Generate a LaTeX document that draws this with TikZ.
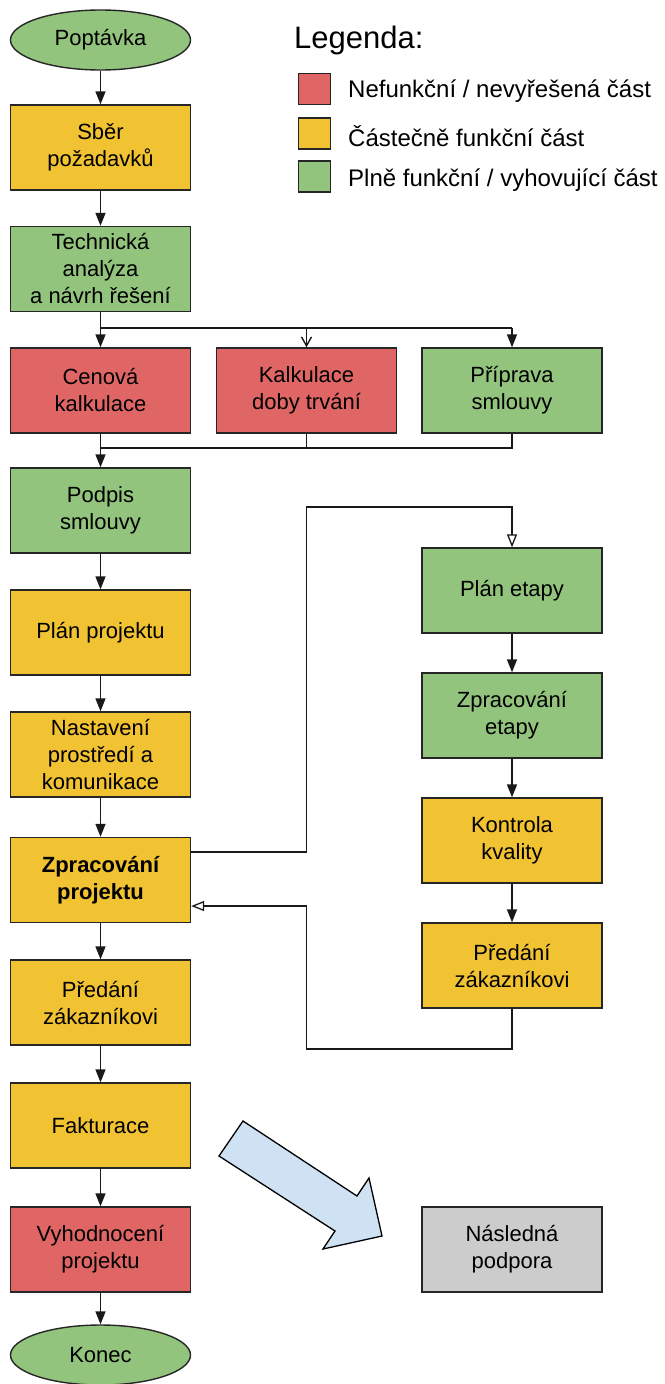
\documentclass[tikz,border=0pt]{standalone}
\usepackage{fontspec}
\setmainfont{Liberation Sans}
\usetikzlibrary{arrows.meta,shapes.geometric}
\definecolor{cred}{HTML}{E06666}
\definecolor{cyellow}{HTML}{F1C232}
\definecolor{cgreen}{HTML}{93C47D}
\definecolor{cgray}{HTML}{CCCCCC}
\definecolor{cblue}{HTML}{CFE2F3}
\tikzset{
  box/.style={draw=black!85, line width=1.4pt, minimum width=180pt, minimum height=85pt,
    align=center, font=\fontsize{22}{27}\selectfont, inner sep=2pt},
  term/.style={box, ellipse, minimum width=180pt, minimum height=60pt},
  red/.style={fill=cred}, yel/.style={fill=cyellow}, grn/.style={fill=cgreen},
  conn/.style={line width=1.4pt, draw=black!90},
  flow/.style={conn, -{Triangle[length=13pt,width=10pt]}},
  thin/.style={conn, -{Straight Barb[length=9pt,width=10pt]}},
  loop/.style={conn, -{Triangle[open,length=13pt,width=10pt,line width=1.3pt]}},
  keybox/.style={draw=black!85, line width=1.4pt, minimum width=32pt, minimum height=31pt, inner sep=0pt},
  keytext/.style={anchor=west, font=\fontsize{24}{28}\selectfont, inner sep=0pt}
}
\begin{document}
\begin{tikzpicture}[x=1pt,y=-1pt]
\useasboundingbox[fill=white] (0,0) rectangle (664,1384);

% main column
\node[term,grn] (pop) at (100.5,40) {Poptávka};
\node[box,yel] (sber) at (100.5,147.5) {Sběr\\požadavků};
\node[box,grn] (tech) at (100.5,269) {Technická\\analýza\\a návrh řešení};
\node[box,red] (cen) at (100.5,390.5) {Cenová\\kalkulace};
\node[box,red] (kal) at (306.5,390.5) {Kalkulace\\doby trvání};
\node[box,grn] (pri) at (512,390.5) {Příprava\\smlouvy};
\node[box,grn] (podpis) at (100.5,510.5) {Podpis\\smlouvy};
\node[box,yel] (plan) at (100.5,632.5) {Plán projektu};
\node[box,yel] (nast) at (100.5,754.5) {Nastavení\\prostředí a\\komunikace};
\node[box,yel,font=\fontsize{22}{27}\selectfont\bfseries] (zprac) at (100.5,880) {Zpracování\\projektu};
\node[box,yel] (pred) at (100.5,1002.5) {Předání\\zákazníkovi};
\node[box,yel] (fakt) at (100.5,1125.5) {Fakturace};
\node[box,red] (vyh) at (100.5,1249.5) {Vyhodnocení\\projektu};
\node[term,grn] (konec) at (100.5,1355) {Konec};

% stage column
\node[box,grn] (eplan) at (512,590.5) {Plán etapy};
\node[box,grn] (ezpr) at (512,715.5) {Zpracování\\etapy};
\node[box,yel] (ekon) at (512,840.5) {Kontrola\\kvality};
\node[box,yel] (epred) at (512,965.5) {Předání\\zákazníkovi};
\node[box,fill=cgray] (podpora) at (512,1249.5) {Následná\\podpora};

% legend
\node[anchor=west, font=\fontsize{31}{35}\selectfont, inner sep=0pt] (leg) at (294,40) {Legenda:};
\node[keybox,fill=cred] (k1) at (314.5,89) {};
\node[keybox,fill=cyellow] (k2) at (314.5,133.5) {};
\node[keybox,fill=cgreen] (k3) at (314.5,176.5) {};
\node[keytext] (t1) at (348,91) {Nefunkční / nevyřešená část};
\node[keytext] (t2) at (348,136) {Částečně funkční část};
\node[keytext] (t3) at (348,180) {Plně funkční / vyhovující část};

% connectors
\draw[flow] (pop) -- (sber);
\draw[flow] (sber) -- (tech);
\coordinate (fork) at (100.5,328);
\draw[conn] (tech.south) -- (fork) -- (fork -| pri.north);
\draw[flow] (fork) -- (cen.north);
\draw[thin] (fork -| kal.north) -- (kal.north);
\draw[flow] (fork -| pri.north) -- (pri.north);
\coordinate (join) at (100.5,448);
\draw[conn] (kal.south) |- (join);
\draw[conn] (pri.south) |- (join);
\draw[flow] (cen.south) -- (podpis.north);
\draw[flow] (podpis) -- (plan);
\draw[flow] (plan) -- (nast);
\draw[flow] (nast) -- (zprac);
\draw[flow] (zprac) -- (pred);
\draw[flow] (pred) -- (fakt);
\draw[flow] (fakt) -- (vyh);
\draw[flow] (vyh) -- (konec);

\draw[flow] (eplan) -- (ezpr);
\draw[flow] (ezpr) -- (ekon);
\draw[flow] (ekon) -- (epred);

% stage loop
\coordinate (lo1) at (306.5,852);
\coordinate (lo2) at (306.5,507);
\draw[loop] (zprac.east |- lo1) -- (lo1) -- (lo2) -| (eplan.north);
\coordinate (li1) at (306.5,1049);
\coordinate (li2) at (306.5,906);
\draw[loop] (epred.south) |- (li1) -- (li2) -- (zprac.east |- li2);

% block arrow towards support
\draw[line width=1.3pt, fill=cblue, line join=miter]
  (243,1121) -- (357,1196) -- (369,1178) -- (382,1236) -- (323,1249) -- (335,1231) -- (219,1156) -- cycle;
\end{tikzpicture}
\end{document}
